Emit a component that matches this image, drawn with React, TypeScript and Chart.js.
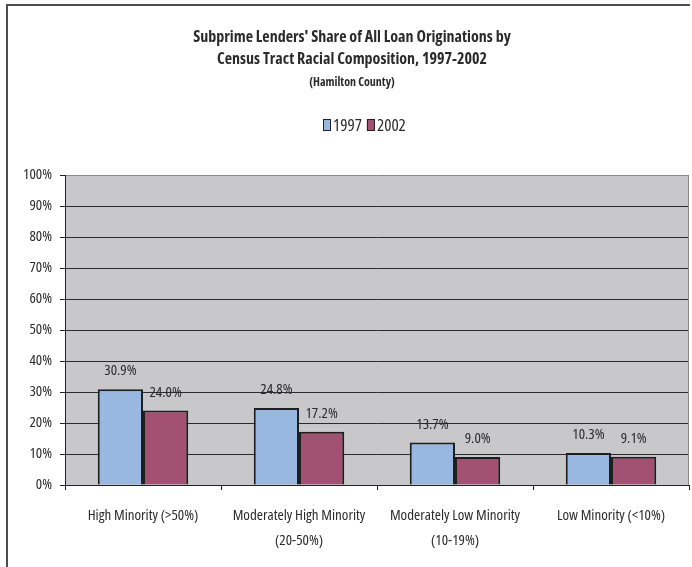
import { useEffect, useRef } from 'react';
import { Chart, registerables } from 'chart.js';

Chart.register(...registerables);

// Census tract groups (multi-line axis labels)
const categories: string[][] = [
  ['High Minority (>50%)'],
  ['Moderately High Minority', '(20-50%)'],
  ['Moderately Low Minority', '(10-19%)'],
  ['Low Minority (<10%)'],
];

const seriesNames = ['1997', '2002'];

// Subprime lenders' share of all loan originations, percent
const share1997 = [30.9, 24.8, 13.7, 10.3];
const share2002 = [24.0, 17.2, 9.0, 9.1];

const titleLines = [
  "Subprime Lenders' Share of All Loan Originations by",
  'Census Tract Racial Composition, 1997-2002',
];
const subtitleText = '(Hamilton County)';

const W = 692;
const H = 567;
const FAMILY = "'Open Sans', 'Liberation Sans', Arial, sans-serif";
// narrow face via font-stretch, passed through the weight slot of the font shorthand
const NARROW = 'condensed';
const NARROW_BOLD = 'bold condensed';
const INK = '#2b2b2b';
const BLUE = '#98b8e1';
const MAROON = '#a35172';
const PLOT_BG = '#c8c8ca';

// White page, outer frame (left and top rules) and grey plot background
const framePlugin = {
  id: 'frame',
  beforeDraw(chart: any) {
    const { ctx, chartArea } = chart;
    ctx.save();
    ctx.fillStyle = '#ffffff';
    ctx.fillRect(0, 0, W, H);
    ctx.fillStyle = PLOT_BG;
    ctx.fillRect(chartArea.left, chartArea.top, chartArea.right - chartArea.left, chartArea.bottom - chartArea.top);
    ctx.strokeStyle = '#4d4d4d';
    ctx.lineWidth = 2;
    ctx.beginPath();
    ctx.moveTo(7, H);
    ctx.lineTo(7, 5);
    ctx.lineTo(690, 5);
    ctx.stroke();
    ctx.restore();
  },
  afterDraw(chart: any) {
    const { ctx, chartArea } = chart;
    ctx.save();
    ctx.strokeStyle = '#8a8a8a';
    ctx.lineWidth = 1;
    ctx.beginPath();
    ctx.moveTo(chartArea.right - 0.5, chartArea.top);
    ctx.lineTo(chartArea.right - 0.5, chartArea.bottom);
    ctx.stroke();
    ctx.restore();
  },
};

// Value labels above each bar
const valueLabels = {
  id: 'valueLabels',
  afterDatasetsDraw(chart: any) {
    const { ctx } = chart;
    ctx.save();
    ctx.font = `normal ${NARROW} 15px ${FAMILY}`;
    ctx.fillStyle = INK;
    ctx.textAlign = 'center';
    ctx.textBaseline = 'middle';
    chart.data.datasets.forEach((ds: any, di: number) => {
      const meta = chart.getDatasetMeta(di);
      meta.data.forEach((bar: any, i: number) => {
        const v = ds.data[i] as number;
        ctx.fillText(`${v.toFixed(1)}%`, bar.x, bar.y - 18);
      });
    });
    ctx.restore();
  },
};

// Compact legend row under the titles
const legendRow = {
  id: 'legendRow',
  afterDraw(chart: any) {
    const { ctx } = chart;
    ctx.save();
    ctx.font = `normal ${NARROW} 17px ${FAMILY}`;
    ctx.textBaseline = 'middle';
    ctx.textAlign = 'left';
    const boxW = 8;
    const boxH = 12;
    const gap = 2;
    const spacing = 5;
    const cy = 125;
    const items = chart.data.datasets.map((d: any) => ({ label: d.label as string, color: d.backgroundColor as string }));
    const widths = items.map((it: any) => boxW + gap + ctx.measureText(it.label).width);
    const total = widths.reduce((a: number, b: number) => a + b, 0) + spacing * (items.length - 1);
    let x = Math.round(364 - total / 2);
    items.forEach((it: any, i: number) => {
      ctx.fillStyle = it.color;
      ctx.fillRect(x, cy - boxH / 2, boxW, boxH);
      ctx.strokeStyle = '#222222';
      ctx.lineWidth = 1;
      ctx.strokeRect(x + 0.5, cy - boxH / 2 + 0.5, boxW - 1, boxH - 1);
      ctx.fillStyle = INK;
      ctx.fillText(it.label, x + boxW + gap, cy + 1);
      x += widths[i] + spacing;
    });
    ctx.restore();
  },
};

export default function App() {
  const canvasRef = useRef<HTMLCanvasElement | null>(null);

  useEffect(() => {
    const canvas = canvasRef.current;
    if (!canvas) return;
    const chart = new Chart(canvas, {
      type: 'bar',
      data: {
        labels: categories,
        datasets: [
          {
            label: seriesNames[0],
            data: share1997,
            backgroundColor: BLUE,
            borderColor: '#1e1e1e',
            borderWidth: 2,
            categoryPercentage: 0.58,
            barPercentage: 1,
          },
          {
            label: seriesNames[1],
            data: share2002,
            backgroundColor: MAROON,
            borderColor: '#1e1e1e',
            borderWidth: 2,
            categoryPercentage: 0.58,
            barPercentage: 1,
          },
        ],
      },
      options: {
        responsive: false,
        animation: false,
        devicePixelRatio: 1,
        layout: { padding: { left: 15, right: 3, top: 0, bottom: 0 } },
        plugins: {
          legend: { display: false },
          tooltip: { enabled: false },
          title: {
            display: true,
            text: titleLines,
            color: INK,
            font: { family: FAMILY, size: 16, weight: NARROW_BOLD as any, lineHeight: '22px' },
            padding: { top: 26, bottom: 0 },
          },
          subtitle: {
            display: true,
            text: subtitleText,
            color: INK,
            font: { family: FAMILY, size: 12, weight: NARROW_BOLD as any, lineHeight: '14px' },
            padding: { top: 6, bottom: 85 },
          },
        },
        scales: {
          x: {
            grid: {
              offset: true,
              drawOnChartArea: false,
              drawTicks: true,
              tickLength: 5,
              tickColor: '#222222',
            },
            border: { display: true, color: '#222222', width: 1 },
            ticks: {
              color: INK,
              font: { family: FAMILY, size: 15, weight: NARROW as any, lineHeight: '25px' },
              padding: 13,
              maxRotation: 0,
              autoSkip: false,
            },
            afterFit(scale: any) {
              scale.height = 82;
            },
          },
          y: {
            min: 0,
            max: 100,
            grid: {
              color: (c: any) => (c.tick && c.tick.value === 100 ? '#8a8a8a' : '#2a2a2a'),
              tickColor: '#222222',
              tickLength: 5,
              lineWidth: 1,
            },
            border: { display: true, color: '#222222', width: 1 },
            ticks: {
              stepSize: 10,
              color: INK,
              font: { family: FAMILY, size: 15, weight: NARROW as any },
              padding: 8,
              callback: (v: any) => `${v}%`,
            },
            afterFit(scale: any) {
              scale.width = 50;
            },
          },
        },
      },
      plugins: [framePlugin, valueLabels, legendRow],
    });
    return () => chart.destroy();
  }, []);

  return (
    <div style={{ position: 'absolute', left: 0, top: 0, width: W, height: H, background: '#fff' }}>
      <canvas ref={canvasRef} width={W} height={H} style={{ width: W, height: H, display: 'block' }} />
    </div>
  );
}
